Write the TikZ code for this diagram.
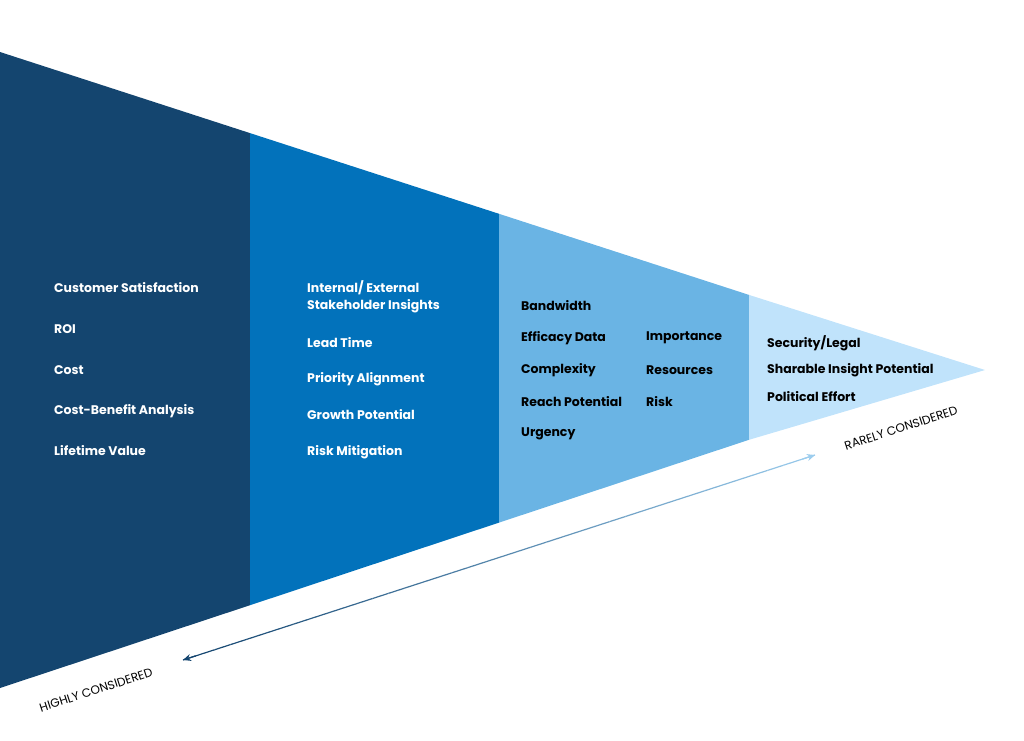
\documentclass[tikz,border=0pt]{standalone}
\usepackage{fontspec}
\setmainfont{Poppins}
\usetikzlibrary{arrows.meta,calc}
\definecolor{c1}{HTML}{14456F}
\definecolor{c2}{HTML}{0272BB}
\definecolor{c3}{HTML}{6AB4E4}
\definecolor{c4}{HTML}{C0E3FB}
\definecolor{ce}{HTML}{9CCDEE}
\begin{document}
\begin{tikzpicture}[x=1pt,y=-1pt,
  lab/.style={font=\fontsize{12.5}{15}\selectfont\bfseries,anchor=west,inner sep=0},
  wl/.style={lab,text=white},
  bl/.style={lab,text=black},
  endlab/.style={font=\fontsize{12}{14}\selectfont,rotate=18,text=black}]
\useasboundingbox (0,0) rectangle (1024,740);
\fill[c1] (0,52) -- (250,133.1) -- (250,605.2) -- (0,688) -- cycle;
\fill[c2] (250,133.1) -- (499,213.8) -- (499,522.6) -- (250,605.2) -- cycle;
\fill[c3] (499,213.8) -- (749,294.9) -- (749,439.8) -- (499,522.6) -- cycle;
\fill[c4] (749,294.9) -- (985,370) -- (749,439.8) -- cycle;
\node[wl] (a1) at (54,288) {Customer Satisfaction};
\node[wl] (a2) at (54,329) {ROI};
\node[wl] (a3) at (54,370) {Cost};
\node[wl] (a4) at (54,411) {Cost-Benefit Analysis};
\node[wl] (a5) at (54,451) {Lifetime Value};
\node[wl] (b1) at (307,288) {Internal/ External};
\node[wl] (b1b) at (307,306) {Stakeholder Insights};
\node[wl] (b2) at (307,343) {Lead Time};
\node[wl] (b3) at (307,379) {Priority Alignment};
\node[wl] (b4) at (307,415) {Growth Potential};
\node[wl] (b5) at (307,452) {Risk Mitigation};
\node[bl] (c1n) at (521,306) {Bandwidth};
\node[bl] (c2n) at (521,338) {Efficacy Data};
\node[bl] (c3n) at (521,370) {Complexity};
\node[bl] (c4n) at (521,402) {Reach Potential};
\node[bl] (c5n) at (521,434) {Urgency};
\node[bl] (d1) at (646,338) {Importance};
\node[bl] (d2) at (646,370) {Resources};
\node[bl] (d3) at (646,402) {Risk};
\node[bl] (e1) at (767,343) {Security/Legal};
\node[bl] (e2) at (767,370) {Sharable Insight Potential};
\node[bl] (e3) at (767,397) {Political Effort};
\coordinate (p) at (183,660);
\coordinate (q) at (815,455);
\foreach \i in {0,...,39}{
  \pgfmathsetmacro\t{\i/40}\pgfmathsetmacro\u{(\i+1)/40}
  \pgfmathsetmacro\m{100-\i*2.5}
  \draw[line width=1.2pt,color=c1!\m!ce] ($(p)!\t!(q)$) -- ($(p)!\u!(q)$);
}
\draw[line width=1.2pt,c1,-{Stealth[length=8pt,width=7pt]}] ($(p)!0.02!(q)$) -- (p);
\draw[line width=1.2pt,ce,-{Stealth[length=8pt,width=7pt]}] ($(p)!0.98!(q)$) -- (q);
\node[endlab] (h) at (96,690) {HIGHLY CONSIDERED};
\node[endlab] (r) at (901,428) {RARELY CONSIDERED};
\end{tikzpicture}
\end{document}
